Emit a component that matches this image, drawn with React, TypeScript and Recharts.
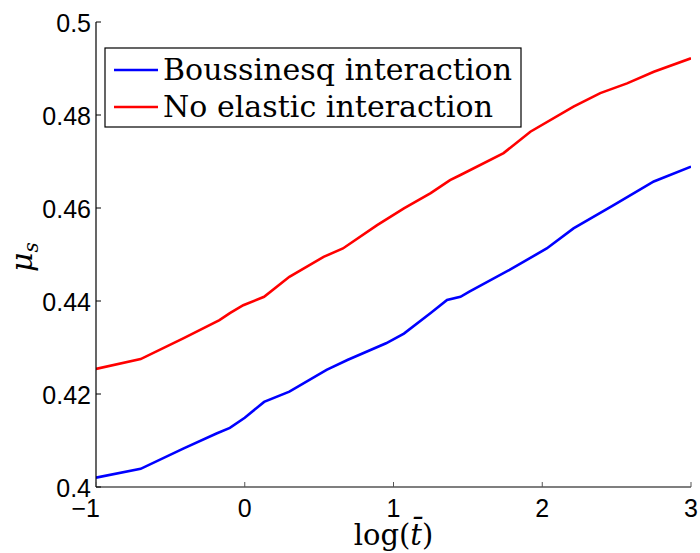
import { LineChart, Line, XAxis, YAxis, Customized } from "recharts";

// log(t̄) samples and friction coefficient for both runs
const boussinesqT = [-1, -0.7, -0.41, -0.19, -0.1, 0, 0.13, 0.3, 0.55, 0.69, 0.95, 1.07, 1.25, 1.36, 1.45, 1.51, 1.78, 2.03, 2.21, 2.48, 2.75, 3];
const boussinesqMu = [0.402, 0.4039, 0.4083, 0.4115, 0.4127, 0.4149, 0.4183, 0.4205, 0.4252, 0.4273, 0.4309, 0.433, 0.4374, 0.4402, 0.4409, 0.442, 0.4467, 0.4513, 0.4556, 0.4606, 0.4657, 0.4689];

const noElasticT = [-1, -0.7, -0.41, -0.17, -0.1, -0.01, 0.13, 0.3, 0.53, 0.66, 0.89, 1.07, 1.25, 1.38, 1.45, 1.74, 1.92, 2.21, 2.39, 2.57, 2.75, 3];
const noElasticMu = [0.4254, 0.4275, 0.432, 0.4359, 0.4374, 0.4391, 0.4409, 0.4452, 0.4495, 0.4513, 0.4563, 0.4599, 0.4632, 0.466, 0.4671, 0.4718, 0.4764, 0.4818, 0.4847, 0.4868, 0.4893, 0.4922];

const xTicks = [-1, 0, 1, 2, 3];
const yTicks = [0.4, 0.42, 0.44, 0.46, 0.48, 0.5];

const seriesNames = ["Boussinesq interaction", "No elastic interaction"];
const seriesColors = ["#0000ff", "#ff0000"];

const toPoints = (t: number[], mu: number[]) => t.map((v, i) => ({ t: v, mu: mu[i] }));
const boussinesqData = toPoints(boussinesqT, boussinesqMu);
const noElasticData = toPoints(noElasticT, noElasticMu);

const AXIS_LEFT = 96;
const AXIS_BOTTOM = 487;
const TICK_FONT = "'Liberation Sans', Arial, sans-serif";
const SERIF = "'DejaVu Serif', serif";

function XTick(props: any) {
  const { x, payload } = props;
  const cx = payload.coordinate ?? x;
  const neg = payload.value < 0;
  return (
    <g>
      <line x1={cx} x2={cx} y1={AXIS_BOTTOM} y2={AXIS_BOTTOM - 5} stroke="#555" strokeWidth={1} />
      <text x={neg ? cx + 4 : cx} y={517} textAnchor={neg ? "end" : "middle"} fontFamily={TICK_FONT} fontSize={25} fill="#000">
        {neg ? "\u2212" + Math.abs(payload.value) : payload.value}
      </text>
    </g>
  );
}

function YTick(props: any) {
  const { y, payload } = props;
  const cy = payload.coordinate ?? y;
  return (
    <g>
      <line x1={AXIS_LEFT} x2={AXIS_LEFT + 5} y1={cy} y2={cy} stroke="#000" strokeWidth={1} />
      <text x={91} y={cy + 10} textAnchor="end" fontFamily={TICK_FONT} fontSize={25} fill="#000">
        {String(payload.value)}
      </text>
    </g>
  );
}

function LegendBox() {
  const left = 105;
  const top = 48;
  return (
    <g>
      <rect x={left} y={top} width={416} height={79} fill="#fff" stroke="#000" strokeWidth={1.2} />
      {seriesNames.map((name, i) => {
        const rowY = top + 22 + i * 37;
        return (
          <g key={name}>
            <line x1={114} x2={158} y1={rowY} y2={rowY} stroke={seriesColors[i]} strokeWidth={2.6} />
            <text x={163} y={rowY + 10} fontFamily={SERIF} fontSize={30} fill="#000" textLength={i === 0 ? 349 : 330} lengthAdjust="spacing">
              {name}
            </text>
          </g>
        );
      })}
    </g>
  );
}

export default function App() {
  return (
    <div style={{ position: "absolute", left: 0, top: 0, background: "#fff" }}>
      <LineChart width={700} height={553} margin={{ top: 22, right: 9, bottom: 0, left: 0 }}>
        <XAxis
          type="number"
          dataKey="t"
          domain={[-1, 3]}
          ticks={xTicks}
          interval={0}
          height={66}
          allowDataOverflow
          axisLine={{ stroke: "#555", strokeWidth: 1.3 }}
          tickLine={false}
          tick={<XTick />}
          label={{
            content: (p: any) => {
              const vb = p.viewBox || { x: AXIS_LEFT, width: 595 };
              return (
                <text x={vb.x + vb.width / 2} y={545} textAnchor="middle" fontFamily={SERIF} fontSize={29} fill="#000">
                  log(<tspan fontStyle="italic">{"t\u0304"}</tspan>)
                </text>
              );
            },
          }}
        />
        <YAxis
          type="number"
          domain={[0.4, 0.5]}
          ticks={yTicks}
          interval={0}
          width={96}
          allowDataOverflow
          axisLine={{ stroke: "#000", strokeWidth: 1.2 }}
          tickLine={false}
          tick={<YTick />}
          label={{
            content: () => (
              <text transform="translate(32,257) rotate(-90)" textAnchor="middle" fontFamily={SERIF} fontSize={30} fill="#000">
                <tspan fontStyle="italic">μ</tspan>
                <tspan fontStyle="italic" fontSize={20} dy={6}>s</tspan>
              </text>
            ),
          }}
        />
        <Line data={boussinesqData} dataKey="mu" name={seriesNames[0]} stroke={seriesColors[0]} strokeWidth={2.6} dot={false} isAnimationActive={false} />
        <Line data={noElasticData} dataKey="mu" name={seriesNames[1]} stroke={seriesColors[1]} strokeWidth={2.6} dot={false} isAnimationActive={false} />
        <Customized component={<LegendBox />} />
      </LineChart>
    </div>
  );
}
